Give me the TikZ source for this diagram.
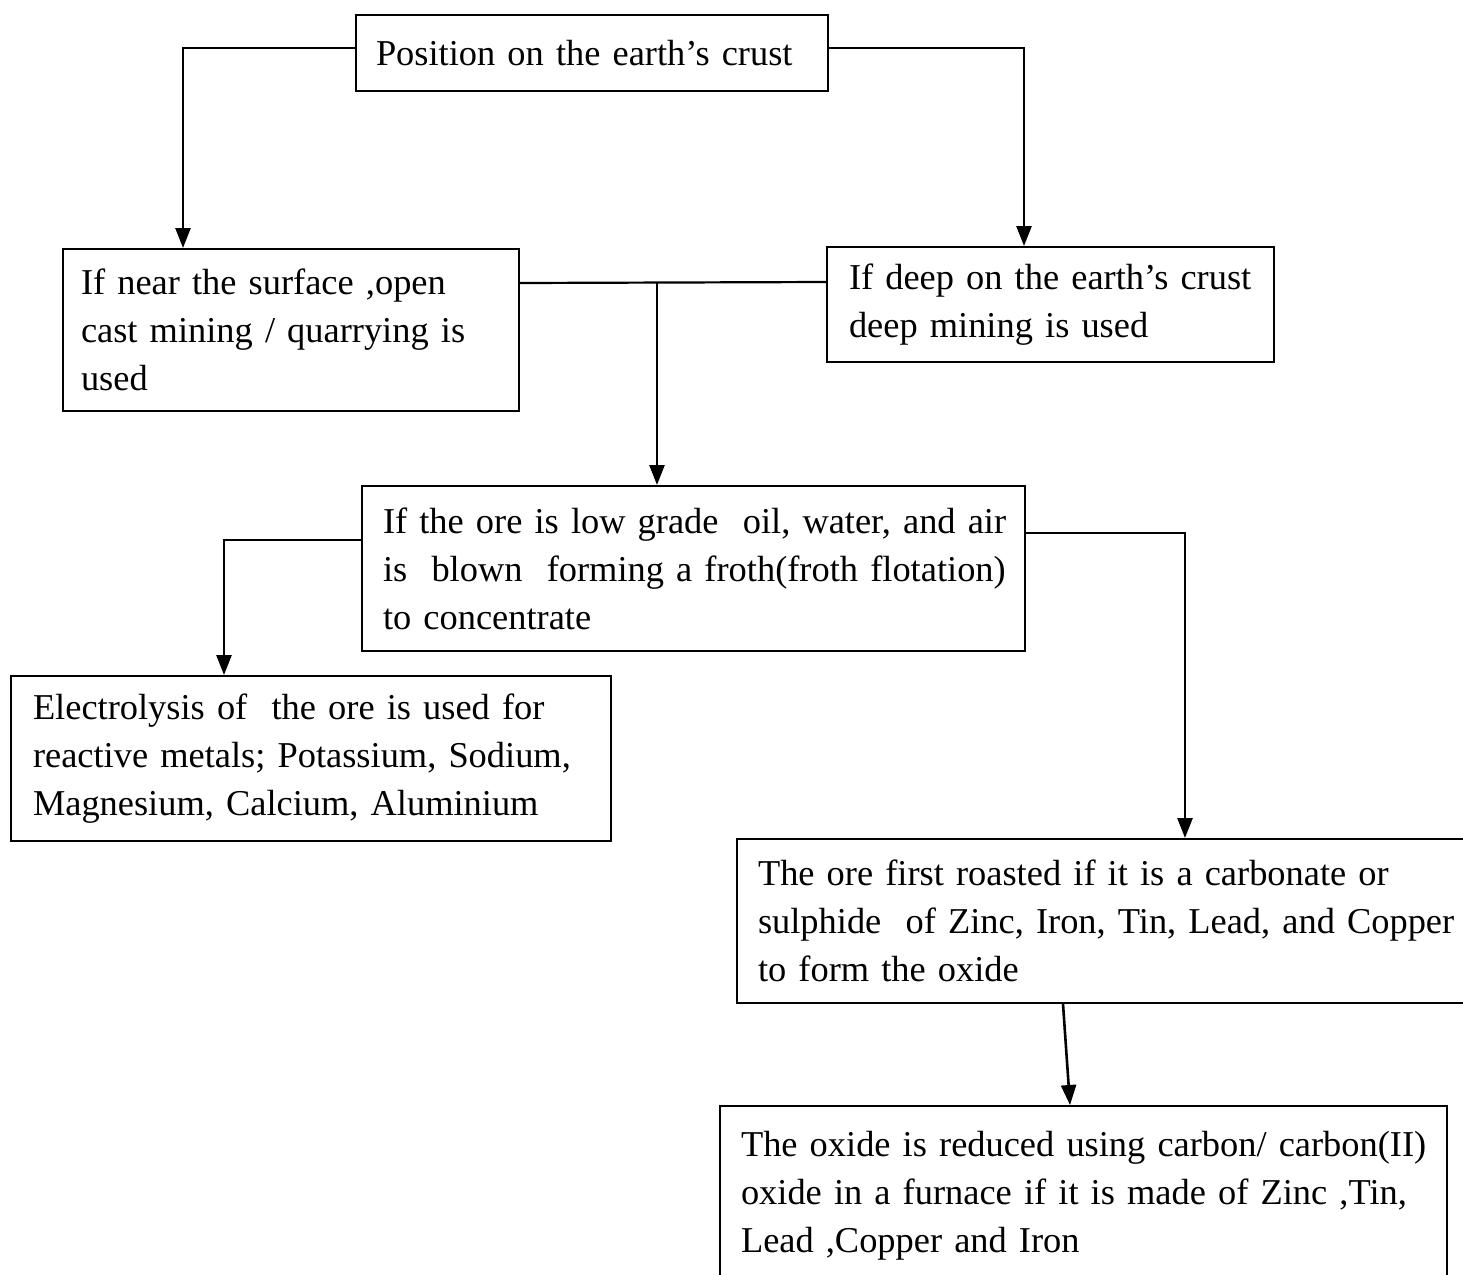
\documentclass[tikz,border=0pt]{standalone}
\usepackage{fontspec}
\setmainfont{Liberation Serif}
\usetikzlibrary{arrows.meta}
\newcommand\oneline[1]{\mbox{#1}}
\begin{document}
\begin{tikzpicture}[x=1pt,y=-1pt,
  box/.style={draw, line width=2pt, rectangle, anchor=north west, inner ysep=0pt, align=left, font=\fontsize{36.4}{48}\selectfont},
  arr/.style={line width=2.6pt, -{Triangle[length=20pt,width=15pt]}},
  link/.style={line width=2.2pt}]
\useasboundingbox (0,0) rectangle (1463,1274);
\fill[white] (0,0) rectangle (1463,1274);

\node[box, minimum width=472pt, minimum height=76pt, inner xsep=20pt, text width=432pt] (top) at (355,14)
  {\oneline{Position on the earth’s crust}};

\node[box, minimum width=456pt, minimum height=162pt, inner xsep=18pt, text width=420pt] (A) at (62,248)
  {\oneline{If near the surface ,open}\\\oneline{cast mining / quarrying is}\\\oneline{used}};

\node[box, minimum width=447pt, minimum height=115pt, inner xsep=22pt, text width=403pt] (B) at (826,246)
  {\oneline{If deep on the earth’s crust}\\\oneline{deep mining is used}};

\node[box, minimum width=663pt, minimum height=165pt, inner xsep=21pt, text width=621pt] (C) at (361,485)
  {\oneline{If the ore is low grade\ \ oil, water, and air}\\\oneline{is\ \ blown\ \ forming a froth(froth flotation)}\\\oneline{to concentrate}};

\node[box, minimum width=600pt, minimum height=165pt, inner xsep=22pt, text width=556pt] (D) at (10,675)
  {\oneline{Electrolysis of\ \ the ore is used for}\\\oneline{reactive metals; Potassium, Sodium,}\\\oneline{Magnesium, Calcium, Aluminium}};

\node[box, minimum width=734pt, minimum height=164pt, inner xsep=21pt, text width=692pt] (E) at (736,838)
  {\oneline{The ore first roasted if it is a carbonate or}\\\oneline{sulphide\ \ of Zinc, Iron, Tin, Lead, and Copper}\\\oneline{to form the oxide}};

\node[box, minimum width=727pt, minimum height=180pt, inner xsep=21pt, text width=685pt] (F) at (719,1105)
  {\oneline{The oxide is reduced using carbon/ carbon(II)}\\\oneline{oxide in a furnace if it is made of Zinc ,Tin,}\\\oneline{Lead ,Copper and Iron}};

\draw[arr] ([yshift=5pt]top.west) -| ([xshift=-108pt]A.north);
\draw[arr] ([yshift=5pt]top.east) -| ([xshift=-26.5pt]B.north);
\draw[link] ([yshift=47pt]A.east) -- ([yshift=22.5pt]B.west);
\coordinate (j) at (657,282);
\draw[arr] (j) -- (j |- C.north);
\draw[arr] ([yshift=28.5pt]C.west) -| ([xshift=-87pt]D.north);
\draw[arr] ([yshift=35.5pt]C.east) -| ([xshift=81pt]E.north);
\draw[arr] ([xshift=-41pt]E.south) -- ([xshift=-13.5pt]F.north);
\end{tikzpicture}
\end{document}
